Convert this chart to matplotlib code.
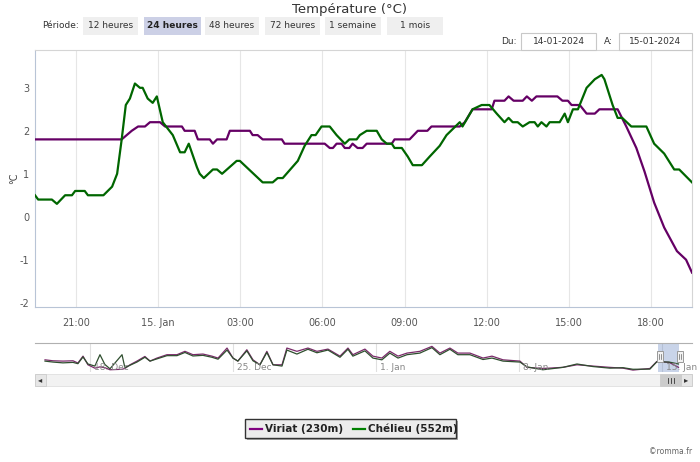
import matplotlib
matplotlib.use("Agg")
import matplotlib.pyplot as plt
from matplotlib.patches import Rectangle
from matplotlib.lines import Line2D
import matplotlib.transforms as mtransforms

# ---------------- data ----------------
title = "Température (°C)"
period_label = "Période:"
period_buttons = ["12 heures", "24 heures", "48 heures", "72 heures", "1 semaine", "1 mois"]
active_button = "24 heures"
date_from = "14-01-2024"
date_to = "15-01-2024"

x_tick_hours = [21, 24, 27, 30, 33, 36, 39, 42]
x_tick_labels = ["21:00", "15. Jan", "03:00", "06:00", "09:00", "12:00", "15:00", "18:00"]
y_ticks = [-2, -1, 0, 1, 2, 3]
y_label = "°C"

series_names = ["Viriat (230m)", "Chélieu (552m)"]
series_colors = ["#650065", "#006600"]

viriat_times = ["19:30", "22:40", "23:02", "23:16", "23:31", "23:42", "00:04", "00:15", "00:52",
                "00:58", "01:20", "01:27", "01:53", "02:00", "02:09", "02:30", "02:37", "03:21",
                "03:27", "03:38", "03:49", "04:31", "04:37", "06:05", "06:16", "06:23", "06:31",
                "06:42", "06:49", "06:59", "07:06", "07:17", "07:28", "07:37", "08:32", "08:38",
                "09:11", "09:29", "09:50", "09:59", "11:01", "11:12", "11:29", "12:11", "12:17",
                "12:39", "12:48", "12:59", "13:19", "13:28", "13:39", "13:49", "14:35", "14:46",
                "14:58", "15:06", "15:24", "15:39", "15:57", "16:07", "16:47", "17:06", "17:28",
                "17:46", "18:07", "18:29", "18:57", "19:17", "19:30"]
viriat_temps = [1.8, 1.8, 2.0, 2.1, 2.1, 2.2, 2.2, 2.1, 2.1,
                2.0, 2.0, 1.8, 1.8, 1.7, 1.8, 1.8, 2.0, 2.0,
                1.9, 1.9, 1.8, 1.8, 1.7, 1.7, 1.6, 1.6, 1.7,
                1.7, 1.6, 1.6, 1.7, 1.6, 1.6, 1.7, 1.7, 1.8,
                1.8, 2.0, 2.0, 2.1, 2.1, 2.2, 2.5, 2.5, 2.7,
                2.7, 2.8, 2.7, 2.7, 2.8, 2.7, 2.8, 2.8, 2.7,
                2.7, 2.6, 2.6, 2.4, 2.4, 2.5, 2.5, 2.1, 1.6,
                1.05, 0.33, -0.25, -0.8, -1.0, -1.3]

chelieu_times = ["19:30", "19:37", "20:07", "20:18", "20:36", "20:51", "20:58", "21:19", "21:26",
                 "22:00", "22:19", "22:30", "22:40", "22:49", "22:58", "23:09", "23:20", "23:26",
                 "23:37", "23:48", "23:57", "00:10", "00:21", "00:32", "00:48", "00:58", "01:07",
                 "01:25", "01:31", "01:40", "02:00", "02:09", "02:20", "02:52", "02:59", "03:49",
                 "04:11", "04:22", "04:33", "05:06", "05:21", "05:36", "05:45", "05:58", "06:16",
                 "06:31", "06:49", "06:59", "07:15", "07:22", "07:37", "07:59", "08:10", "08:21",
                 "08:32", "08:38", "08:54", "09:07", "09:18", "09:38", "09:55", "10:17", "10:32",
                 "11:01", "11:07", "11:29", "11:49", "12:06", "12:22", "12:39", "12:48", "12:57",
                 "13:08", "13:19", "13:34", "13:45", "13:52", "14:00", "14:11", "14:18", "14:40",
                 "14:51", "14:58", "15:09", "15:20", "15:39", "15:57", "16:12", "16:18", "16:36",
                 "16:47", "16:57", "17:17", "17:50", "18:07", "18:29", "18:51", "19:02", "19:30"]
chelieu_temps = [0.5, 0.4, 0.4, 0.3, 0.5, 0.5, 0.6, 0.6, 0.5,
                 0.5, 0.7, 1.0, 1.8, 2.6, 2.75, 3.1, 3.0, 3.0,
                 2.75, 2.65, 2.8, 2.2, 2.05, 1.9, 1.5, 1.5, 1.7,
                 1.15, 1.0, 0.9, 1.1, 1.1, 1.0, 1.3, 1.3, 0.8,
                 0.8, 0.9, 0.9, 1.3, 1.65, 1.9, 1.9, 2.1, 2.1,
                 1.9, 1.7, 1.8, 1.8, 1.9, 2.0, 2.0, 1.8, 1.7,
                 1.7, 1.6, 1.6, 1.4, 1.2, 1.2, 1.4, 1.65, 1.9,
                 2.2, 2.1, 2.5, 2.6, 2.6, 2.4, 2.2, 2.3, 2.2,
                 2.2, 2.1, 2.2, 2.2, 2.1, 2.2, 2.1, 2.2, 2.2,
                 2.4, 2.2, 2.5, 2.5, 3.0, 3.2, 3.3, 3.2, 2.6,
                 2.3, 2.3, 2.1, 2.1, 1.7, 1.47, 1.1, 1.1, 0.8]

# navigator (one month), x = days since 18 Dec 00:00
nav_days = [-2.20, -1.81, -1.32, -0.83, -0.59, -0.34, -0.10, 0.24, 0.49, 0.73, 0.98, 1.57, 1.71,
            1.96, 2.30, 2.69, 2.94, 3.28, 3.77, 4.26, 4.65, 5.04, 5.53, 5.97, 6.27, 6.71, 7.00,
            7.24, 7.68, 7.98, 8.32, 8.66, 8.96, 9.40, 9.64, 10.13, 10.67, 11.11, 11.65, 12.24,
            12.63, 12.87, 13.46, 13.85, 14.29, 14.68, 15.08, 15.52, 16.15, 16.74, 17.13, 17.62,
            18.01, 18.60, 19.24, 19.68, 20.22, 21.05, 21.39, 22.17, 23.15, 23.84, 24.62, 25.45,
            26.09, 26.58, 27.41, 27.75, 28.35, 28.81]
nav_viriat = [3.4, 2.8, 2.6, 2.8, 1.4, 5.7, 0.3, -1.8, -1.0, -1.5, -2.8, -2.5, -2.0,
              0.3, 2.6, 5.5, 2.6, 4.5, 6.6, 6.6, 8.7, 6.6, 7.0, 5.7, 4.5, 10.75, 4.5,
              2.6, 9.7, 3.4, 0.3, 8.7, 0.3, 0.3, 10.75, 8.7, 10.75, 8.7, 10.1, 5.7,
              10.75, 6.6, 10.1, 5.7, 4.5, 8.7, 5.7, 7.6, 8.7, 11.8, 7.6, 10.75,
              7.6, 7.6, 4.5, 5.7, 3.4, 2.6, -1.3, -2.0, -1.3, 0.3, -0.5, -1.3,
              -1.8, -3.0, -2.0, 2.4, 1.8, -1.3]
nav_chelieu = [2.6, 2.0, 1.5, 1.8, 1.0, 5.2, 0.8, -0.5, 6.6, 0.5, -2.2, 6.6, -1.5,
               0.0, 2.0, 5.0, 2.6, 4.0, 6.0, 6.0, 8.0, 5.8, 6.2, 5.0, 3.8, 9.5, 4.5,
               2.6, 9.0, 2.8, 0.3, 8.0, 0.3, -0.5, 9.5, 7.0, 10.0, 7.8, 9.5, 5.0,
               10.0, 5.7, 9.0, 4.5, 3.4, 7.6, 4.5, 6.6, 7.6, 11.0, 6.6, 10.0,
               6.6, 6.6, 3.6, 4.5, 2.6, 2.0, -1.0, -2.8, -1.3, 0.8, -0.8, -1.8,
               -1.5, -2.5, -2.4, 2.2, 2.0, 0.8]
nav_tick_days = [0, 7, 14, 21, 28]
nav_tick_labels = ["18. Dec", "25. Dec", "1. Jan", "8. Jan", "15. Jan"]
nav_selection = (27.8125, 28.8125)
credit = "©romma.fr"


def to_hours(times):
    out, offset, prev = [], 0.0, -1.0
    for t in times:
        h, m = t.split(":")
        v = int(h) + int(m) / 60 + offset
        if v < prev:
            offset += 24
            v += 24
        out.append(v)
        prev = v
    return out


plt.rcParams["font.family"] = ["DejaVu Sans"]
plt.rcParams["axes.unicode_minus"] = False

W, H = 700, 462
fig = plt.figure(figsize=(W / 100, H / 100), dpi=100)
fig.patch.set_facecolor("white")


def px_axes(x0, y0, x1, y1):
    return [x0 / W, 1 - y1 / H, (x1 - x0) / W, (y1 - y0) / H]


# ---------------- main chart ----------------
ax = fig.add_axes(px_axes(35, 50, 692, 307))
ax.plot(to_hours(viriat_times), viriat_temps, color=series_colors[0], lw=1.6, zorder=3)
ax.plot(to_hours(chelieu_times), chelieu_temps, color=series_colors[1], lw=1.6, zorder=4)
ax.set_xlim(19.5, 43.5)
ax.set_ylim(-2.1, 3.88)
ax.set_xticks(x_tick_hours)
ax.set_xticklabels(x_tick_labels)
ax.set_yticks(y_ticks)
ax.tick_params(axis="both", length=0, labelsize=7, colors="#555555")
ax.tick_params(axis="x", pad=8)
ax.tick_params(axis="y", pad=4)
ax.grid(axis="x", color="#e6e6e6", lw=0.8)
for s in ax.spines.values():
    s.set_color("#d5d5d5")
    s.set_linewidth(0.8)
ax.spines["left"].set_color("#b8c4d6")
ax.spines["bottom"].set_color("#b8c4d6")

# ---------------- navigator ----------------
nav = fig.add_axes(px_axes(35, 343, 692, 372))
nav.plot(nav_days, nav_viriat, color="#7a2a6a", lw=0.9)
nav.plot(nav_days, nav_chelieu, color="#2f4f2f", lw=0.9)
nav.set_xlim(-2.69, 29.47)
nav.set_ylim(-4.2, 13.9)
nav.axvspan(nav_selection[0], nav_selection[1], color="#6685c2", alpha=0.35, lw=0)
for d in nav_tick_days:
    nav.axvline(d, color="#e0e0e0", lw=0.8, zorder=0)
trans = mtransforms.blended_transform_factory(nav.transData, nav.transAxes)
for d, lab in zip(nav_tick_days, nav_tick_labels):
    nav.text(d + 0.2, 0.17, lab, transform=trans, fontsize=6.5, color="#888888",
             ha="left", va="center")
nav.set_xticks([])
nav.set_yticks([])
for k, s in nav.spines.items():
    s.set_visible(k == "top")
nav.spines["top"].set_color("#b0b0b0")

# ---------------- overlay (UI elements) ----------------
ov = fig.add_axes([0, 0, 1, 1])
ov.set_xlim(0, W)
ov.set_ylim(H, 0)
ov.axis("off")
ov.set_zorder(10)

ov.text(350, 9, title, fontsize=9.5, color="#333333", ha="center", va="center")
ov.text(14, 178, y_label, fontsize=7, color="#444444", ha="center", va="center", rotation=90)
ov.text(42, 26, period_label, fontsize=6.5, color="#333333", ha="left", va="center")
btn_x = [(83, 138), (144, 201), (205, 259), (265, 320), (325, 381), (387, 443)]
for (x0, x1), lab in zip(btn_x, period_buttons):
    active = lab == active_button
    ov.add_patch(Rectangle((x0, 17), x1 - x0, 18, facecolor="#ccd0e6" if active else "#efefef",
                           edgecolor="none"))
    ov.text((x0 + x1) / 2, 25, lab, fontsize=6.5, color="#222222" if active else "#333333",
            ha="center", va="center", fontweight="bold" if active else "normal")

ov.text(501, 42, "Du:", fontsize=6.5, color="#333333", ha="left", va="center")
ov.add_patch(Rectangle((521, 33), 75, 17, facecolor="white", edgecolor="#c8c8c8", lw=0.8))
ov.text(558.5, 41.5, date_from, fontsize=6.5, color="#333333", ha="center", va="center")
ov.text(604, 42, "A:", fontsize=6.5, color="#333333", ha="left", va="center")
ov.add_patch(Rectangle((619, 33), 73, 17, facecolor="white", edgecolor="#c8c8c8", lw=0.8))
ov.text(655.5, 41.5, date_to, fontsize=6.5, color="#333333", ha="center", va="center")

# navigator handles
for hx in (660, 680):
    ov.add_patch(Rectangle((hx - 3, 351), 6, 11, facecolor="#f2f2f2", edgecolor="#999999", lw=0.7))
    ov.plot([hx - 1, hx - 1], [354, 359], color="#666666", lw=0.5)
    ov.plot([hx + 1, hx + 1], [354, 359], color="#666666", lw=0.5)

# scrollbar
ov.add_patch(Rectangle((35, 374), 657, 12, facecolor="#f2f2f2", edgecolor="#e0e0e0", lw=0.6))
ov.add_patch(Rectangle((35, 374), 11, 12, facecolor="#e6e6e6", edgecolor="#cccccc", lw=0.6))
ov.add_patch(Rectangle((681, 374), 11, 12, facecolor="#e6e6e6", edgecolor="#cccccc", lw=0.6))
ov.add_patch(Rectangle((660, 374), 21, 12, facecolor="#cccccc", edgecolor="#cccccc", lw=0.6))
ov.text(40.5, 380, "◂", fontsize=6, color="#333333", ha="center", va="center")
ov.text(686.5, 380, "▸", fontsize=6, color="#333333", ha="center", va="center")
for gx in (667.5, 670.5, 673.5):
    ov.plot([gx, gx], [377.5, 382.5], color="#333333", lw=0.6)

# legend
ov.add_patch(Rectangle((247, 421), 211, 19, facecolor="#555555", edgecolor="none", alpha=0.5))
ov.add_patch(Rectangle((245, 419), 211, 19, facecolor="#ececec", edgecolor="#333333", lw=1.0))
ov.add_line(Line2D([250, 262], [428.5, 428.5], color="#800080", lw=1.6))
ov.text(265, 428.5, series_names[0], fontsize=7.5, fontweight="bold", color="#222222",
        ha="left", va="center")
ov.add_line(Line2D([353, 365], [428.5, 428.5], color="#008000", lw=1.6))
ov.text(368, 428.5, series_names[1], fontsize=7.5, fontweight="bold", color="#222222",
        ha="left", va="center")

ov.text(692, 452, credit, fontsize=5.5, color="#666666", ha="right", va="center")

fig.savefig("out.png", dpi=100)
